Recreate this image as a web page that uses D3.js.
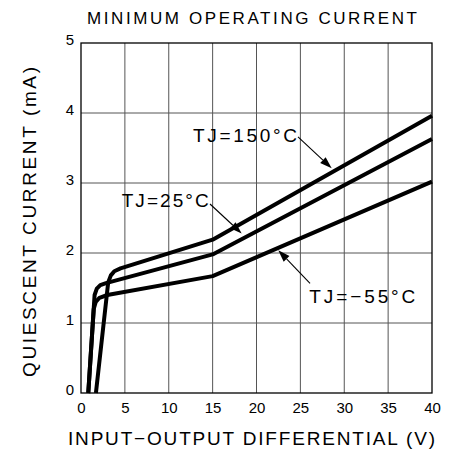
<!DOCTYPE html>
<html>
<head>
<meta charset="utf-8">
<script src="https://cdn.jsdelivr.net/npm/d3@7"></script>
<style>
  body { margin: 0; background: #fff; }
  svg { display: block; }
  text { font-family: "Liberation Sans", Arial, sans-serif; fill: #000; }
</style>
</head>
<body>
<svg id="chart" width="463" height="452"></svg>
<script>
// ---- data ----
const xTicks = [0, 5, 10, 15, 20, 25, 30, 35, 40];
const yTicks = [0, 1, 2, 3, 4, 5];

const v150 = [1.7, 3.1, 3.4, 3.8, 4.5, 15, 40];
const i150 = [0, 1.58, 1.68, 1.74, 1.78, 2.19, 3.96];

const v25 = [0.83, 1.55, 1.8, 2.2, 2.85, 15, 40];
const i25 = [0, 1.4, 1.49, 1.54, 1.57, 1.98, 3.63];

const vM55 = [0.83, 1.45, 1.68, 2.1, 3.0, 15, 40];
const iM55 = [0, 1.2, 1.3, 1.36, 1.40, 1.67, 3.02];

const labels = ["TJ=150°C", "TJ=25°C", "TJ=−55°C"];

const title = "MINIMUM OPERATING CURRENT";
const xTitle = "INPUT−OUTPUT DIFFERENTIAL (V)";
const yTitle = "QUIESCENT CURRENT (mA)";

// ---- layout ----
const svg = d3.select("#chart");
const L = 81, R = 432, T = 43, B = 393;
const x = d3.scaleLinear().domain([0, 40]).range([L, R]);
const y = d3.scaleLinear().domain([0, 5]).range([B, T]);

// grid
svg.append("g").selectAll("line").data(xTicks.slice(1, -1)).join("line")
  .attr("x1", d => x(d)).attr("x2", d => x(d)).attr("y1", T).attr("y2", B)
  .attr("stroke", "#555").attr("stroke-width", 1);
svg.append("g").selectAll("line").data(yTicks.slice(1, -1)).join("line")
  .attr("y1", d => y(d)).attr("y2", d => y(d)).attr("x1", L).attr("x2", R)
  .attr("stroke", "#555").attr("stroke-width", 1);

// frame
svg.append("rect").attr("x", L).attr("y", T).attr("width", R - L).attr("height", B - T)
  .attr("fill", "none").attr("stroke", "#000").attr("stroke-width", 1.3);

// axes tick labels
const xa = svg.append("g").attr("transform", `translate(0,${B})`)
  .call(d3.axisBottom(x).tickValues(xTicks).tickSize(0).tickPadding(8).tickFormat(d3.format("d")));
xa.select(".domain").remove();
xa.selectAll("text").style("font-size", "15px").style("font-family", "Liberation Sans, Arial, sans-serif").attr("dy", "0.95em").attr("y", 6);

const ya = svg.append("g").attr("transform", `translate(${L},0)`)
  .call(d3.axisLeft(y).tickValues(yTicks).tickSize(0).tickPadding(7).tickFormat(d3.format("d")));
ya.select(".domain").remove();
ya.selectAll("text").style("font-size", "15px").style("font-family", "Liberation Sans, Arial, sans-serif").attr("dy", "0.1em");

// curves
const line = d3.line().x(d => x(d[0])).y(d => y(d[1])).curve(d3.curveLinear);
const series = [
  d3.zip(vM55, iM55),
  d3.zip(v25, i25),
  d3.zip(v150, i150)
];
svg.append("g").selectAll("path").data(series).join("path")
  .attr("d", line).attr("fill", "none").attr("stroke", "#000")
  .attr("stroke-width", 4).attr("stroke-linejoin", "round");

// annotations (data coordinates)
const annText = [[12.76, 3.586], [4.64, 2.653], [26.02, 1.281]];
const annFrom = [[24.73, 3.66], [14.7, 2.70], [26.1, 1.567]];
const annTo = [[28.57, 3.21], [18.31, 2.28], [22.48, 2.04]];
const annWidth = [104, 87, 106];

const ag = svg.append("g");
labels.forEach((lab, k) => {
  ag.append("text").attr("x", x(annText[k][0])).attr("y", y(annText[k][1]))
    .attr("textLength", annWidth[k]).attr("lengthAdjust", "spacing")
    .style("font-size", "19px").text(lab);
  const x1 = x(annFrom[k][0]), y1 = y(annFrom[k][1]);
  const x2 = x(annTo[k][0]), y2 = y(annTo[k][1]);
  const ang = Math.atan2(y2 - y1, x2 - x1);
  const hl = 12, hw = 4;
  const bx = x2 - hl * Math.cos(ang), by = y2 - hl * Math.sin(ang);
  ag.append("line").attr("x1", x1).attr("y1", y1).attr("x2", bx).attr("y2", by)
    .attr("stroke", "#000").attr("stroke-width", 1.1);
  const px = -Math.sin(ang), py = Math.cos(ang);
  ag.append("path")
    .attr("d", `M${x2},${y2}L${bx + hw * px},${by + hw * py}L${bx - hw * px},${by - hw * py}Z`)
    .attr("fill", "#000");
});

// titles
svg.append("text").attr("x", 252).attr("y", 24).attr("text-anchor", "middle")
  .attr("textLength", 330).attr("lengthAdjust", "spacing")
  .style("font-size", "17px").text(title);
svg.append("text").attr("x", 251.5).attr("y", 445).attr("text-anchor", "middle")
  .attr("textLength", 367).attr("lengthAdjust", "spacing")
  .style("font-size", "19px").text(xTitle);
svg.append("text").attr("transform", "translate(36,222) rotate(-90)").attr("text-anchor", "middle")
  .attr("textLength", 310).attr("lengthAdjust", "spacing")
  .style("font-size", "19px").text(yTitle);
</script>
</body>
</html>
